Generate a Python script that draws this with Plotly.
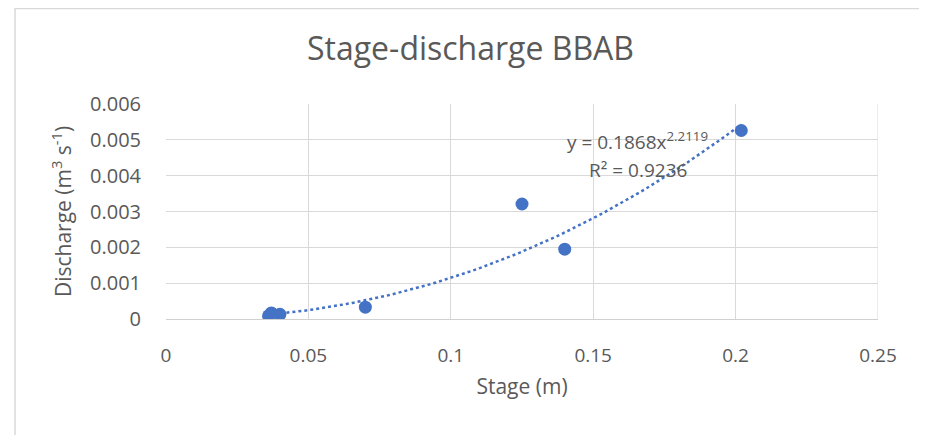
import numpy as np
import plotly.graph_objects as go

# Stage (m) and discharge (m3/s)
stage = [0.036, 0.037, 0.040, 0.070, 0.125, 0.140, 0.202]
discharge = [0.00009, 0.00017, 0.00013, 0.00033, 0.00321, 0.00195, 0.00526]

# power trendline coefficients as printed on the chart
coef_a = 0.1868
coef_b = 2.2119
r_squared = 0.9236

x_ticks = [0, 0.05, 0.1, 0.15, 0.2, 0.25]
y_ticks = [0, 0.001, 0.002, 0.003, 0.004, 0.005, 0.006]

grey = "#595959"
font_family = "Open Sans, sans-serif"

# page body adds an 8px offset, so the figure is 8px smaller than the window
W, H = 919, 427
L, R, T, B = 158, 49, 96, 116
pw, ph = W - L - R, H - T - B

trend_x = np.linspace(min(stage), max(stage), 80)
trend_y = coef_a * trend_x ** coef_b

fig = go.Figure()

fig.add_trace(go.Scatter(
    x=trend_x, y=trend_y,
    mode="lines",
    line=dict(color="#4472C4", width=2.5, dash="dot"),
    hoverinfo="skip",
    showlegend=False
))

fig.add_trace(go.Scatter(
    x=stage, y=discharge,
    mode="markers",
    marker=dict(size=13, color="#4472C4"),
    showlegend=False
))

# trendline equation, one annotation per line
fig.add_annotation(
    x=0.1654, y=0.00497, xref="x", yref="y",
    text=f"y = {coef_a}x<sup>{coef_b}</sup>",
    showarrow=False,
    font=dict(size=19, color=grey, family=font_family)
)
fig.add_annotation(
    x=0.1657, y=0.00416, xref="x", yref="y",
    text=f"R² = {r_squared}",
    showarrow=False,
    font=dict(size=19, color=grey, family=font_family)
)

# chart border (left, top, right edges)
fig.add_shape(
    type="rect", xref="paper", yref="paper",
    x0=(7 - L) / pw, x1=(917 - L) / pw,
    y0=(T + ph - 440) / ph, y1=(T + ph - 0.5) / ph,
    line=dict(color="#d9d9d9", width=1.5)
)

fig.update_layout(
    width=W, height=H,
    margin=dict(l=L, r=R, t=T, b=B),
    paper_bgcolor="white", plot_bgcolor="white",
    font=dict(family=font_family, color=grey, size=18),
    title=dict(
        text="Stage-discharge BBAB",
        x=(305 - 8 + 331 / 2) / W, xanchor="center",
        y=1 - 41 / H, yanchor="middle",
        font=dict(size=32, color=grey, family=font_family)
    ),
    xaxis=dict(
        range=[0, 0.25], tickvals=x_ticks,
        ticktext=[f"{v:g}" for v in x_ticks],
        showgrid=True, gridcolor="#d9d9d9", gridwidth=1,
        zeroline=False, showline=True, linecolor="#d0d0d0",
        ticks="outside", ticklen=19, tickcolor="rgba(0,0,0,0)",
        title=dict(text="Stage (m)", font=dict(size=21, color=grey), standoff=12),
        tickfont=dict(size=19, color=grey)
    ),
    yaxis=dict(
        range=[0, 0.006], tickvals=y_ticks,
        ticktext=[f"{v:g}" for v in y_ticks],
        showgrid=True, gridcolor="#d9d9d9", gridwidth=1,
        zeroline=False, showline=False,
        ticks="outside", ticklen=20, tickcolor="rgba(0,0,0,0)",
        title=dict(text="Discharge (m<sup>3</sup> s<sup>-1</sup>)",
                   font=dict(size=21, color=grey), standoff=12),
        tickfont=dict(size=20, color=grey)
    )
)

fig.add_vline(x=0.25, line=dict(color="#d9d9d9", width=1))

fig.write_html("out.html")
